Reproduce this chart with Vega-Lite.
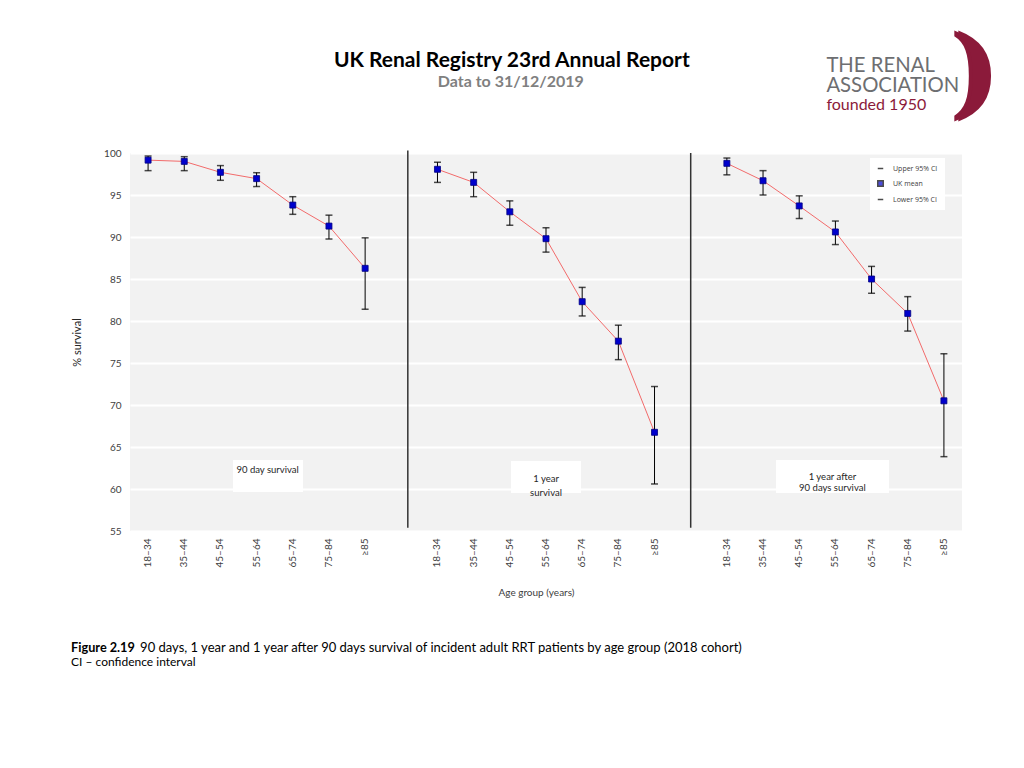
{
  "$schema": "https://vega.github.io/schema/vega-lite/v6.json",
  "width": 832,
  "height": 378,
  "autosize": "none",
  "padding": {"left": 130, "top": 153, "right": 62, "bottom": 237},
  "background": "white",
  "config": {"view": {"fill": "#f2f2f2", "stroke": null}, "font": "Lato"},
  "datasets": {
    "survival": [
      {"panel": "90 day", "cat": "a|18–34", "UK mean": 99.15, "Lower 95% CI": 97.9, "Upper 95% CI": 99.64},
      {"panel": "90 day", "cat": "a|35–44", "UK mean": 99.0, "Lower 95% CI": 97.9, "Upper 95% CI": 99.56},
      {"panel": "90 day", "cat": "a|45–54", "UK mean": 97.7, "Lower 95% CI": 96.75, "Upper 95% CI": 98.5},
      {"panel": "90 day", "cat": "a|55–64", "UK mean": 96.95, "Lower 95% CI": 96.0, "Upper 95% CI": 97.66},
      {"panel": "90 day", "cat": "a|65–74", "UK mean": 93.8, "Lower 95% CI": 92.7, "Upper 95% CI": 94.8},
      {"panel": "90 day", "cat": "a|75–84", "UK mean": 91.3, "Lower 95% CI": 89.76, "Upper 95% CI": 92.6},
      {"panel": "90 day", "cat": "a|≥85", "UK mean": 86.27, "Lower 95% CI": 81.4, "Upper 95% CI": 89.9},
      {"panel": "1 year", "cat": "b|18–34", "UK mean": 98.06, "Lower 95% CI": 96.5, "Upper 95% CI": 98.9},
      {"panel": "1 year", "cat": "b|35–44", "UK mean": 96.5, "Lower 95% CI": 94.8, "Upper 95% CI": 97.7},
      {"panel": "1 year", "cat": "b|45–54", "UK mean": 93.0, "Lower 95% CI": 91.4, "Upper 95% CI": 94.3},
      {"panel": "1 year", "cat": "b|55–64", "UK mean": 89.8, "Lower 95% CI": 88.2, "Upper 95% CI": 91.1},
      {"panel": "1 year", "cat": "b|65–74", "UK mean": 82.3, "Lower 95% CI": 80.6, "Upper 95% CI": 84.0},
      {"panel": "1 year", "cat": "b|75–84", "UK mean": 77.6, "Lower 95% CI": 75.4, "Upper 95% CI": 79.5},
      {"panel": "1 year", "cat": "b|≥85", "UK mean": 66.75, "Lower 95% CI": 60.6, "Upper 95% CI": 72.2},
      {"panel": "1 year after 90 days", "cat": "c|18–34", "UK mean": 98.77, "Lower 95% CI": 97.4, "Upper 95% CI": 99.4},
      {"panel": "1 year after 90 days", "cat": "c|35–44", "UK mean": 96.7, "Lower 95% CI": 95.0, "Upper 95% CI": 97.9},
      {"panel": "1 year after 90 days", "cat": "c|45–54", "UK mean": 93.7, "Lower 95% CI": 92.2, "Upper 95% CI": 94.9},
      {"panel": "1 year after 90 days", "cat": "c|55–64", "UK mean": 90.6, "Lower 95% CI": 89.1, "Upper 95% CI": 91.9},
      {"panel": "1 year after 90 days", "cat": "c|65–74", "UK mean": 85.0, "Lower 95% CI": 83.3, "Upper 95% CI": 86.5},
      {"panel": "1 year after 90 days", "cat": "c|75–84", "UK mean": 80.9, "Lower 95% CI": 78.8, "Upper 95% CI": 82.9},
      {"panel": "1 year after 90 days", "cat": "c|≥85", "UK mean": 70.5, "Lower 95% CI": 63.85, "Upper 95% CI": 76.1}
    ]
  },
  "layer": [
    {
      "data": {"values": [{"cat": "a|55–64", "lo": 59.64, "hi": 63.45}]},
      "mark": {"type": "bar", "color": "white", "width": 70},
      "encoding": {
        "x": {"field": "cat", "type": "nominal",
          "scale": {"type": "band", "paddingInner": 0, "paddingOuter": 0,
            "domain": ["a|18–34","a|35–44","a|45–54","a|55–64","a|65–74","a|75–84","a|≥85","s1","b|18–34","b|35–44","b|45–54","b|55–64","b|65–74","b|75–84","b|≥85","s2","c|18–34","c|35–44","c|45–54","c|55–64","c|65–74","c|75–84","c|≥85"]},
          "axis": {"title": "Age group (years)", "labelExpr": "indexof(datum.value,'|')>=0 ? split(datum.value,'|')[1] : ''",
            "labelAngle": -90, "labelFontSize": 10, "labelColor": "#404040", "ticks": false, "domain": false,
            "labelPadding": 7, "titlePadding": 20, "titleFontSize": 10, "titleFontWeight": "normal", "titleColor": "#404040",
            "titleX": 406, "grid": false}},
        "xOffset": {"value": 29.5},
        "y": {"field": "lo", "type": "quantitative",
          "scale": {"domain": [55, 100], "nice": false, "zero": false},
          "axis": {"values": [55,60,65,70,75,80,85,90,95,100], "title": "% survival", "grid": true, "gridColor": "white", "gridWidth": 2,
            "domain": false, "ticks": false, "labelPadding": 9, "labelFontSize": 10, "labelColor": "#404040",
            "titlePadding": 21, "titleFontSize": 11, "titleFontWeight": "normal", "titleColor": "#262626"}},
        "y2": {"field": "hi"}
      }
    },
    {
      "data": {"values": [{"cat": "b|55–64", "lo": 59.52, "hi": 63.33}]},
      "mark": {"type": "bar", "color": "white", "width": 70},
      "encoding": {
        "x": {"field": "cat", "type": "nominal"},
        "y": {"field": "lo", "type": "quantitative"},
        "y2": {"field": "hi"}
      }
    },
    {
      "data": {"values": [{"cat": "c|55–64", "lo": 59.52, "hi": 63.45}]},
      "mark": {"type": "bar", "color": "white", "width": 113},
      "encoding": {
        "x": {"field": "cat", "type": "nominal"},
        "xOffset": {"value": 15.2},
        "y": {"field": "lo", "type": "quantitative"},
        "y2": {"field": "hi"}
      }
    },
    {
      "data": {"values": [{"cat": "s1"}]},
      "mark": {"type": "rule", "color": "#333333", "strokeWidth": 1.5},
      "encoding": {
        "x": {"field": "cat", "type": "nominal", "bandPosition": 0.68},
        "y": {"datum": 100.3, "type": "quantitative"},
        "y2": {"datum": 55.4}
      }
    },
    {
      "data": {"values": [{"cat": "s2"}]},
      "mark": {"type": "rule", "color": "#333333", "strokeWidth": 1.5},
      "encoding": {
        "x": {"field": "cat", "type": "nominal"},
        "y": {"datum": 100.0, "type": "quantitative"},
        "y2": {"datum": 55.4}
      }
    },
    {
      "data": {"name": "survival"},
      "mark": {"type": "rule", "color": "#000000", "strokeWidth": 1},
      "encoding": {
        "x": {"field": "cat", "type": "nominal"},
        "y": {"field": "Lower 95% CI", "type": "quantitative"},
        "y2": {"field": "Upper 95% CI"}
      }
    },
    {
      "data": {"name": "survival"},
      "mark": {"type": "line", "color": "#f26b6b", "strokeWidth": 1},
      "encoding": {
        "x": {"field": "cat", "type": "nominal"},
        "y": {"field": "UK mean", "type": "quantitative"},
        "detail": {"field": "panel"}
      }
    },
    {
      "data": {"name": "survival"},
      "transform": [{"fold": ["Upper 95% CI", "Lower 95% CI"], "as": ["series", "value"]}],
      "mark": {"type": "tick", "thickness": 1.5, "size": 7, "orient": "horizontal"},
      "encoding": {
        "x": {"field": "cat", "type": "nominal"},
        "y": {"field": "value", "type": "quantitative"},
        "color": {"field": "series", "type": "nominal",
          "scale": {"domain": ["Upper 95% CI", "UK mean", "Lower 95% CI"], "range": ["#000000", "#0000cd", "#000000"]},
          "legend": {"orient": "none", "legendX": 740, "legendY": 5, "title": null, "fillColor": "white",
            "padding": 7, "labelFontSize": 7, "labelFont": "Open Sans", "labelColor": "#404040",
            "symbolSize": 30, "rowPadding": 5, "labelOffset": 9, "symbolStrokeWidth": 1.5, "symbolStrokeColor": "#000000",
            "encode": {"symbols": {"update": {"stroke": {"scale": "color", "field": "value"}, "fill": {"scale": "color", "field": "value"}, "strokeWidth": {"value": 1.6}, "opacity": {"value": 1}}}}}}
      }
    },
    {
      "data": {"name": "survival"},
      "transform": [{"fold": ["UK mean"], "as": ["series", "value"]}],
      "mark": {"type": "point", "filled": true, "size": 36, "opacity": 1, "stroke": "#000080", "strokeWidth": 0.8},
      "encoding": {
        "x": {"field": "cat", "type": "nominal"},
        "y": {"field": "value", "type": "quantitative"},
        "color": {"field": "series", "type": "nominal"},
        "shape": {"field": "series", "type": "nominal",
          "scale": {"domain": ["Upper 95% CI", "UK mean", "Lower 95% CI"], "range": ["stroke", "square", "stroke"]}}
      }
    },
    {
      "data": {"values": [{"cat": "a|55–64", "ty": 62.3, "label": "90 day survival"}]},
      "mark": {"type": "text", "fontSize": 9.5, "color": "#262626", "baseline": "middle", "dx": 11},
      "encoding": {
        "x": {"field": "cat", "type": "nominal"},
        "y": {"field": "ty", "type": "quantitative"},
        "text": {"field": "label"}
      }
    },
    {
      "data": {"values": [{"cat": "b|55–64", "ty": 61.2, "label": ["1 year", "survival"]}]},
      "mark": {"type": "text", "fontSize": 9.5, "color": "#262626", "lineHeight": 14, "baseline": "middle"},
      "encoding": {
        "x": {"field": "cat", "type": "nominal"},
        "y": {"field": "ty", "type": "quantitative"},
        "text": {"field": "label"}
      }
    },
    {
      "data": {"values": [{"cat": "c|55–64", "ty": 61.45, "label": ["1 year after", "90  days survival"]}]},
      "mark": {"type": "text", "fontSize": 9.5, "color": "#262626", "lineHeight": 11, "baseline": "middle", "dx": -3},
      "encoding": {
        "x": {"field": "cat", "type": "nominal"},
        "y": {"field": "ty", "type": "quantitative"},
        "text": {"field": "label"}
      }
    },
    {
      "data": {"values": [{"t": "UK Renal Registry 23rd Annual Report", "ty": 110.24}]},
      "mark": {"type": "text", "fontSize": 21, "fontWeight": "bold", "color": "#000000", "align": "center", "baseline": "alphabetic", "dx": 2},
      "encoding": {
        "x": {"datum": "b|45–54"},
        "y": {"field": "ty", "type": "quantitative"},
        "text": {"field": "t"}
      }
    },
    {
      "data": {"values": [{"t": "Data to 31/12/2019", "ty": 107.8}]},
      "mark": {"type": "text", "fontSize": 16, "fontWeight": "bold", "color": "#808080", "align": "center", "baseline": "alphabetic", "dx": 1},
      "encoding": {
        "x": {"datum": "b|45–54"},
        "y": {"field": "ty", "type": "quantitative"},
        "text": {"field": "t"}
      }
    },
    {
      "data": {"values": [{"t": ")", "ty": 109.2}]},
      "mark": {"type": "text", "fontSize": 100, "font": "DejaVu Serif", "fontWeight": "bold", "color": "#8b1a3a", "align": "center", "baseline": "middle", "dx": 29},
      "encoding": {
        "x": {"datum": "c|≥85"},
        "y": {"field": "ty", "type": "quantitative"},
        "text": {"field": "t"}
      }
    },
    {
      "data": {"values": [{"t": ")", "ty": 109.2}]},
      "mark": {"type": "text", "fontSize": 100, "font": "DejaVu Serif", "fontWeight": "bold", "color": "#8b1a3a", "align": "center", "baseline": "middle", "dx": 33},
      "encoding": {
        "x": {"datum": "c|≥85"},
        "y": {"field": "ty", "type": "quantitative"},
        "text": {"field": "t"}
      }
    },
    {
      "data": {"values": [
        {"t": "THE RENAL", "ty": 109.64},
        {"t": "ASSOCIATION", "ty": 107.26}
      ]},
      "mark": {"type": "text", "fontSize": 20.3, "color": "#6d6e71", "align": "left", "baseline": "alphabetic", "dx": -9},
      "encoding": {
        "x": {"datum": "c|55–64"},
        "y": {"field": "ty", "type": "quantitative"},
        "text": {"field": "t"}
      }
    },
    {
      "data": {"values": [{"t": "founded 1950", "ty": 105.12}]},
      "mark": {"type": "text", "fontSize": 16, "color": "#8b1a3a", "align": "left", "baseline": "alphabetic", "dx": -9},
      "encoding": {
        "x": {"datum": "c|55–64"},
        "y": {"field": "ty", "type": "quantitative"},
        "text": {"field": "t"}
      }
    },
    {
      "data": {"values": [{"t": "Figure 2.19", "ty": 40.6}]},
      "mark": {"type": "text", "fontSize": 12.7, "fontWeight": "bold", "color": "#000000", "align": "left", "baseline": "alphabetic", "dx": -77},
      "encoding": {
        "x": {"datum": "a|18–34"},
        "y": {"field": "ty", "type": "quantitative"},
        "text": {"field": "t"}
      }
    },
    {
      "data": {"values": [{"t": "90 days, 1 year and 1 year after 90 days survival of incident adult RRT patients by age group (2018 cohort)", "ty": 40.6}]},
      "mark": {"type": "text", "fontSize": 13, "color": "#000000", "align": "left", "baseline": "alphabetic", "dx": -8},
      "encoding": {
        "x": {"datum": "a|18–34"},
        "y": {"field": "ty", "type": "quantitative"},
        "text": {"field": "t"}
      }
    },
    {
      "data": {"values": [{"t": "CI – confidence interval", "ty": 38.95}]},
      "mark": {"type": "text", "fontSize": 12, "color": "#000000", "align": "left", "baseline": "alphabetic", "dx": -77},
      "encoding": {
        "x": {"datum": "a|18–34"},
        "y": {"field": "ty", "type": "quantitative"},
        "text": {"field": "t"}
      }
    }
  ]
}
